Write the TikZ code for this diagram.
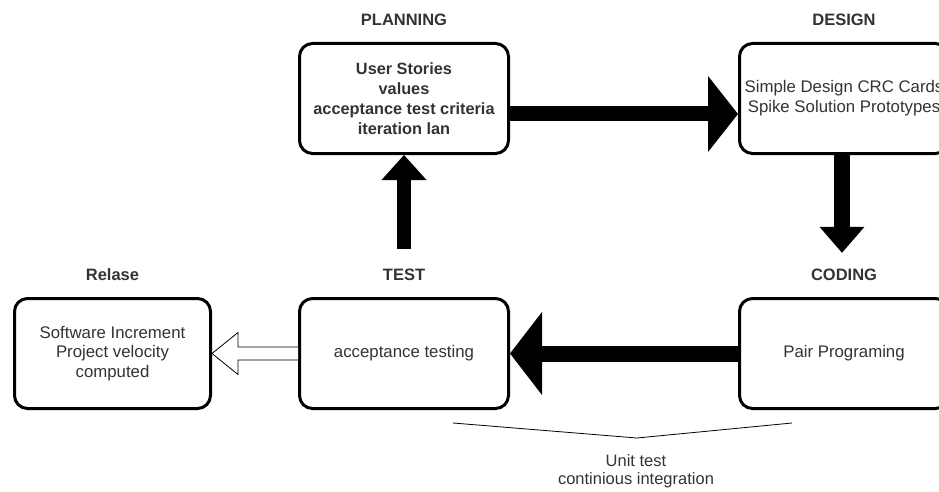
\documentclass[tikz,border=0pt]{standalone}
\usepackage{fontspec}
\setmainfont{Liberation Sans}
\usetikzlibrary{arrows.meta,positioning}
\definecolor{textgray}{HTML}{333333}

\begin{document}
\begin{tikzpicture}[
        x=1pt,y=-1pt,
        phase/.style={draw,line width=3pt,rounded corners=13pt,
            minimum width=209pt,minimum height=110pt,align=center,
            text=textgray,font=\fontsize{16.8}{19.8}\selectfont},
        phasename/.style={inner sep=0pt,text height=11.8pt,text depth=0pt,
            text=textgray,font=\fontsize{16.5}{19.5}\selectfont\bfseries},
        bigflow/.style n args={3}{draw,line width=#1,
            -{Triangle[length=#2,width=#3,line width=0pt]}},
    ]
    \useasboundingbox (0,0) rectangle (939,492);

    \node [phase,font=\fontsize{16.3}{19.8}\selectfont\bfseries] (plan) at (404,98.5)
        {User Stories\\values\\acceptance test criteria\\iteration lan};
    \node [phase] (design) at (844,98.5) {Simple Design CRC Cards\\Spike Solution Prototypes};
    \node [phase] (coding) at (844,353.5) {Pair Programing};
    \node [phase] (test)   at (404,353.5) {acceptance testing};
    \node [phase,minimum width=196pt] (relase) at (112.5,353.5)
        {Software Increment\\Project velocity\\computed};

    \begin{scope}[node distance=16pt]
        \node [phasename,above=of plan]   (plantitle)   {PLANNING};
        \node [phasename,above=of design] (designtitle) {DESIGN};
        \node [phasename,above=of coding] (codingtitle) {CODING};
        \node [phasename,above=of test]   (testtitle)   {TEST};
        \node [phasename,above=of relase] (relasetitle) {Relase};
    \end{scope}

    \draw [bigflow={15pt}{30pt}{76pt}] ([yshift=-15.5pt]plan.east) -- ([yshift=-15.5pt]design.west);
    \draw [bigflow={16pt}{26pt}{45pt}] ([xshift=-2pt]design.south) -- ([xshift=-2pt,yshift=16pt]codingtitle.north);
    \draw [bigflow={16pt}{32pt}{83pt}] (coding.west) -- (test.east);
    \draw [bigflow={14pt}{25pt}{45pt}] ([yshift=20pt]testtitle.north) -- (plan.south);

    \draw [line width=0.8pt,fill=white]
        ([yshift=6.5pt]test.west) -- ++(-60,0) -- ++(0,-14.5) -- (relase.east)
        -- ++(26,21) -- ++(0,-14.5) -- ([yshift=-6.5pt]test.west);

    \coordinate (bleft)  at (453,423);
    \coordinate (bmid)   at (637,438);
    \coordinate (bright) at (792,423);
    \draw [line width=0.8pt] (bleft) -- (bmid) -- (bright);
    \node [inner sep=0pt,align=center,text=textgray,font=\fontsize{16.5}{18}\selectfont] (unit) at (636,471)
        {Unit test\\continious integration};
\end{tikzpicture}
\end{document}
